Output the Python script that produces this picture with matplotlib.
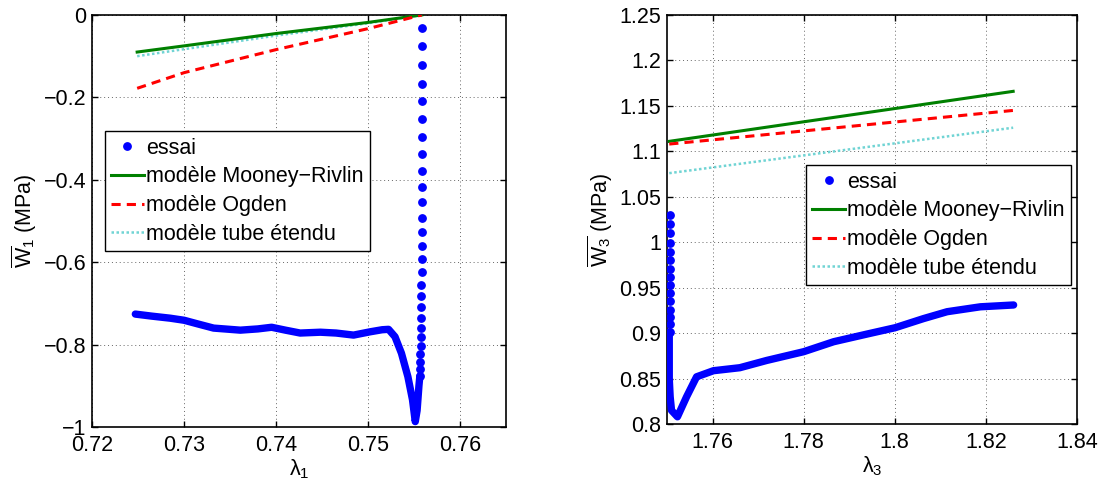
import matplotlib
matplotlib.use('Agg')
import matplotlib.pyplot as plt
from matplotlib.ticker import FuncFormatter, MultipleLocator
from matplotlib.lines import Line2D

plt.rcParams['font.family'] = ['Liberation Sans', 'DejaVu Sans']
plt.rcParams['mathtext.fontset'] = 'custom'
plt.rcParams['mathtext.rm'] = 'Liberation Sans'
plt.rcParams['mathtext.it'] = 'Liberation Sans'
plt.rcParams['font.size'] = 15.5

# --- gauche : W1 en fonction de lambda1 ---
lam1_model = [0.7249, 0.73, 0.74, 0.75, 0.7558]
w1_mooney = [-0.090, -0.075, -0.045, -0.018, 0.0]
w1_ogden = [-0.178, -0.140, -0.084, -0.033, 0.0]
w1_tube = [-0.100, -0.083, -0.050, -0.020, 0.0]

# essai : partie dense (trait continu de points)
lam1_essai = [0.7247, 0.7265, 0.7285, 0.73, 0.7315, 0.7332, 0.7361, 0.738, 0.7395,
              0.741, 0.7426, 0.7448, 0.7465, 0.7484, 0.7502, 0.7515, 0.7522, 0.7529,
              0.7536, 0.7543, 0.7548, 0.7551, 0.7553, 0.7554, 0.7555, 0.7556]
w1_essai = [-0.726, -0.731, -0.736, -0.741, -0.750, -0.760, -0.765, -0.762, -0.758,
            -0.765, -0.772, -0.770, -0.772, -0.777, -0.769, -0.764, -0.763, -0.781,
            -0.821, -0.878, -0.934, -0.987, -0.960, -0.930, -0.900, -0.876]
# essai : points espaces (montee verticale)
lam1_essai_pts = [0.7556, 0.7556, 0.7556, 0.7556, 0.7557, 0.7557, 0.7557, 0.7557,
                  0.7557, 0.7557, 0.7557, 0.7558, 0.7558, 0.7558, 0.7558, 0.7558,
                  0.7558, 0.7558, 0.7558, 0.7558, 0.7558, 0.7558, 0.7558, 0.7558,
                  0.7558, 0.7558, 0.7558]
w1_essai_pts = [-0.876, -0.860, -0.842, -0.824, -0.804, -0.782, -0.759, -0.735,
                -0.710, -0.682, -0.655, -0.625, -0.593, -0.561, -0.527, -0.492,
                -0.455, -0.417, -0.378, -0.337, -0.295, -0.253, -0.210, -0.167,
                -0.122, -0.076, -0.031]

# --- droite : W3 en fonction de lambda3 ---
lam3_model = [1.7505, 1.826]
w3_mooney = [1.111, 1.166]
w3_ogden = [1.108, 1.145]
w3_tube = [1.076, 1.126]

lam3_essai = [1.7505, 1.7505, 1.7505, 1.7507, 1.751, 1.7523, 1.7543, 1.7565, 1.7602,
              1.766, 1.7719, 1.780, 1.7866, 1.7939, 1.8001, 1.8063, 1.8115, 1.8188,
              1.8261]
w3_essai = [0.9015, 0.875, 0.850, 0.830, 0.815, 0.808, 0.830, 0.852, 0.8587,
            0.862, 0.870, 0.8796, 0.8906, 0.899, 0.906, 0.916, 0.9236, 0.929,
            0.931]
lam3_essai_pts = [1.7506] * 15
w3_essai_pts = [1.030, 1.020, 1.010, 0.9995, 0.9896, 0.980, 0.971, 0.962, 0.953,
                0.944, 0.935, 0.926, 0.918, 0.910, 0.9015]

labels = ['essai', 'modèle Mooney\u2212Rivlin', 'modèle Ogden', 'modèle tube étendu']
c_tube = '#70d4d4'


def fmt(v, pos):
    s = '%g' % round(v, 8)
    if s == '-0':
        s = '0'
    return s.replace('-', '\u2212')


def style_axes(ax):
    ax.grid(True, linestyle=(0, (1, 3)), color='0.4', linewidth=0.7)
    ax.tick_params(direction='in', top=True, right=True, length=4, width=1)
    ax.tick_params(axis='x', pad=6)
    ax.tick_params(axis='y', pad=4)
    for sp in ax.spines.values():
        sp.set_linewidth(1.2)
    ax.xaxis.set_major_formatter(FuncFormatter(fmt))
    ax.yaxis.set_major_formatter(FuncFormatter(fmt))


def draw_models(ax, x, mr, og, tb):
    ax.plot(x, tb, linestyle=(0, (1, 1)), color=c_tube, lw=1.8, zorder=3)
    ax.plot(x, mr, '-', color='#008000', lw=2.2, zorder=4)
    ax.plot(x, og, linestyle=(0, (3, 2)), color='red', lw=2.2, zorder=5)


def draw_essai(ax, xd, yd, xp, yp):
    ax.plot(xd, yd, '-', color='blue', lw=5.3, solid_joinstyle='round',
            solid_capstyle='round', zorder=6)
    ax.plot(xp, yp, 'o', color='blue', ms=5.3, zorder=6)


def add_legend(ax, anchor):
    handles = [Line2D([], [], linestyle='none', marker='o', color='blue', ms=5.3),
               Line2D([], [], color='#008000', lw=2.2),
               Line2D([], [], color='red', lw=2.2, linestyle=(0, (3, 2))),
               Line2D([], [], color=c_tube, lw=1.8, linestyle=(0, (1, 1)))]
    leg = ax.legend(handles, labels, loc='upper left', bbox_to_anchor=anchor,
                    borderaxespad=0, fancybox=False, framealpha=1, edgecolor='black',
                    handlelength=1.5, handletextpad=0.1, labelspacing=0.36,
                    borderpad=0.3, fontsize=15.5)
    leg.get_frame().set_linewidth(1.0)
    leg.set_zorder(10)


fig = plt.figure(figsize=(11.05, 4.83), dpi=100)

ax1 = fig.add_axes([0.0833, 0.116, 0.375, 0.853])
draw_models(ax1, lam1_model, w1_mooney, w1_ogden, w1_tube)
draw_essai(ax1, lam1_essai, w1_essai, lam1_essai_pts, w1_essai_pts)
ax1.set_xlim(0.72, 0.765)
ax1.set_ylim(-1, 0)
ax1.xaxis.set_major_locator(MultipleLocator(0.01))
ax1.yaxis.set_major_locator(MultipleLocator(0.2))
ax1.set_xlabel(r'$\lambda_1$')
ax1.set_ylabel(r'$\overline{W}_1$ (MPa)')
ax1.xaxis.set_label_coords(0.5, -0.075)
ax1.yaxis.set_label_coords(-0.128, 0.5)
style_axes(ax1)
add_legend(ax1, (0.031, 0.718))

ax2 = fig.add_axes([0.6036, 0.122, 0.371, 0.847])
draw_models(ax2, lam3_model, w3_mooney, w3_ogden, w3_tube)
draw_essai(ax2, lam3_essai, w3_essai, lam3_essai_pts, w3_essai_pts)
ax2.set_xlim(1.75, 1.84)
ax2.set_ylim(0.8, 1.25)
ax2.set_xticks([1.76, 1.78, 1.8, 1.82, 1.84])
ax2.yaxis.set_major_locator(MultipleLocator(0.05))
ax2.set_xlabel(r'$\lambda_3$')
ax2.set_ylabel(r'$\overline{W_3}$ (MPa)')
ax2.xaxis.set_label_coords(0.5, -0.075)
ax2.yaxis.set_label_coords(-0.128, 0.5)
style_axes(ax2)
add_legend(ax2, (0.339, 0.633))

fig.savefig('out.png', dpi=100)
